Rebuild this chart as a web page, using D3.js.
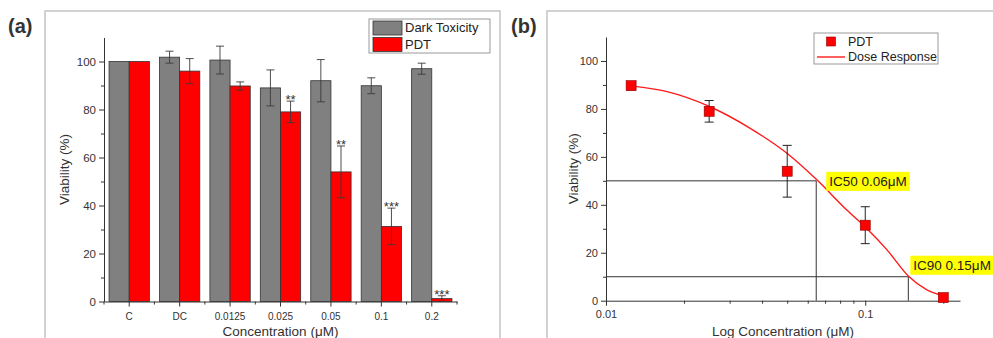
<!DOCTYPE html>
<html>
<head>
<meta charset="utf-8">
<script src="https://cdn.jsdelivr.net/npm/d3@7"></script>
<style>
  body { margin: 0; background: #fff; }
  svg { display: block; font-family: Arial, "Liberation Sans", sans-serif; }
  .tick text { fill: #333; }
  .domain, .tick line { stroke: #333; }
</style>
</head>
<body>
<div id="chart"></div>
<script>
// panel (a): bar chart
const categories = ["C", "DC", "0.0125", "0.025", "0.05", "0.1", "0.2"];
const darkValues = [100, 101.8, 100.6, 89, 92, 89.9, 97];
const darkErr = [0, 2.5, 5.8, 7.5, 8.8, 3.3, 2.3];
const pdtValues = [100, 96, 89.8, 79, 54, 31.3, 1.2];
const pdtErr = [0, 5.2, 1.7, 4.5, 10.8, 7.6, 1.2];
const significance = ["", "", "", "**", "**", "***", "***"];
const yTicksA = [0, 20, 40, 60, 80, 100];
const yMinorA = [10, 30, 50, 70, 90];

// panel (b): dose response
const pdtConc = [0.0125, 0.025, 0.05, 0.1, 0.2];
const pdtMean = [89.7, 79, 54, 31.5, 1.3];
const pdtSd = [1.7, 4.5, 10.8, 7.7, 1.2];
const fitConc = [0.0126, 0.0172, 0.0252, 0.036, 0.0499, 0.0652, 0.0849, 0.1016, 0.1213, 0.1469, 0.173, 0.2004];
const fitViab = [89.5, 87.2, 80.9, 71.9, 61.5, 50.3, 37.8, 30.0, 21.2, 10.2, 4.5, 2.0];
const icConc = [0.0647, 0.1466];
const icLevel = [50, 10];
const icLabels = ["IC50 0.06\u03bcM", "IC90 0.15\u03bcM"];
const xTicksB = [0.01, 0.1];
const xMinorB = [0.02, 0.03, 0.04, 0.05, 0.06, 0.07, 0.08, 0.09, 0.2];

const W = 993, H = 338;
const ink = "#333";

const svg = d3.select("#chart").append("svg")
    .attr("width", W)
    .attr("height", H);

// panel frames
svg.append("path")
    .attr("d", "M45,340V11H500V340")
    .attr("fill", "none").attr("stroke", "#c4c4c4").attr("stroke-width", 1.5);
svg.append("path")
    .attr("d", "M547,340V11H995")
    .attr("fill", "none").attr("stroke", "#c4c4c4").attr("stroke-width", 1.5);

svg.append("text").attr("x", 8).attr("y", 33)
    .style("font-size", "20px").style("font-weight", "bold").attr("fill", ink).text("(a)");
svg.append("text").attr("x", 511).attr("y", 33)
    .style("font-size", "20px").style("font-weight", "bold").attr("fill", ink).text("(b)");

// ---------- panel (a) ----------
const xa = d3.scaleBand().domain(categories).range([104, 457]).paddingInner(0.2).paddingOuter(0.1);
const xs = d3.scaleBand().domain(["dark", "pdt"]).range([0, xa.bandwidth()]);
const ya = d3.scaleLinear().domain([0, 110]).range([301.5, 37.5]);

const ga = svg.append("g");

const rows = categories.map((c, i) => ({
    c, dark: darkValues[i], darkErr: darkErr[i], pdt: pdtValues[i], pdtErr: pdtErr[i], sig: significance[i]
}));

const series = [
    { key: "dark", color: "#808080", val: d => d.dark, err: d => d.darkErr },
    { key: "pdt", color: "#ff0000", val: d => d.pdt, err: d => d.pdtErr }
];

series.forEach(s => {
    ga.append("g").selectAll("rect")
        .data(rows)
        .join("rect")
        .attr("x", d => xa(d.c) + xs(s.key))
        .attr("y", d => ya(s.val(d)))
        .attr("width", xs.bandwidth())
        .attr("height", d => ya(0) - ya(s.val(d)))
        .attr("fill", s.color)
        .attr("stroke", ink)
        .attr("stroke-width", 0.8);

    const eb = ga.append("g").attr("stroke", "#3a3a3a").attr("stroke-width", 0.9)
        .selectAll("g")
        .data(rows.filter(d => s.err(d) > 0))
        .join("g")
        .attr("transform", d => `translate(${xa(d.c) + xs(s.key) + xs.bandwidth() / 2},0)`);
    eb.append("line")
        .attr("y1", d => ya(s.val(d) + s.err(d)))
        .attr("y2", d => ya(s.val(d) - s.err(d)));
    eb.append("line").attr("x1", -4).attr("x2", 4)
        .attr("y1", d => ya(s.val(d) + s.err(d))).attr("y2", d => ya(s.val(d) + s.err(d)));
    eb.append("line").attr("x1", -4).attr("x2", 4)
        .attr("y1", d => ya(s.val(d) - s.err(d))).attr("y2", d => ya(s.val(d) - s.err(d)));
});

ga.append("g").selectAll("text")
    .data(rows.filter(d => d.sig))
    .join("text")
    .attr("x", d => xa(d.c) + xs("pdt") + xs.bandwidth() / 2)
    .attr("y", d => ya(d.pdt + d.pdtErr) + 3)
    .attr("text-anchor", "middle")
    .attr("fill", ink)
    .style("font-size", "13px")
    .text(d => d.sig);

// axes (a)
ga.append("g")
    .attr("transform", `translate(104,0)`)
    .call(d3.axisLeft(ya).tickValues(yTicksA).tickSize(5).tickSizeOuter(0).tickPadding(3))
    .call(g => g.selectAll("text").style("font-size", "11.5px"));
ga.append("g")
    .attr("transform", `translate(104,0)`)
    .call(d3.axisLeft(ya).tickValues(yMinorA).tickSize(3).tickFormat(""))
    .call(g => g.select(".domain").remove());

ga.append("g")
    .attr("transform", `translate(0,${ya(0)})`)
    .call(d3.axisBottom(xa).tickSize(5).tickSizeOuter(0).tickPadding(6))
    .call(g => g.selectAll("text").style("font-size", "10px"));
ga.append("g").attr("stroke", ink)
    .selectAll("line")
    .data(d3.range(categories.length + 1))
    .join("line")
    .attr("x1", k => xa.range()[0] + k * xa.step())
    .attr("x2", k => xa.range()[0] + k * xa.step())
    .attr("y1", ya(0)).attr("y2", ya(0) + 3);

ga.append("text")
    .attr("x", (xa.range()[0] + xa.range()[1]) / 2).attr("y", 336)
    .attr("text-anchor", "middle").attr("fill", ink)
    .style("font-size", "13.5px").text("Concentration (\u03bcM)");
ga.append("text")
    .attr("transform", `translate(69,${(ya(0) + ya(110)) / 2}) rotate(-90)`)
    .attr("text-anchor", "middle").attr("fill", ink)
    .style("font-size", "13.5px").text("Viability (%)");

// legend (a)
const la = ga.append("g");
la.append("rect").attr("x", 369).attr("y", 19).attr("width", 121).attr("height", 34)
    .attr("fill", "#fff").attr("stroke", "#999");
series.forEach((s, i) => {
    la.append("rect").attr("x", 373).attr("y", 21 + i * 16.5).attr("width", 29).attr("height", 14)
        .attr("fill", s.color).attr("stroke", ink).attr("stroke-width", 0.8);
    la.append("text").attr("x", 405).attr("y", 32 + i * 17).attr("fill", "#222")
        .style("font-size", "13px").text(i === 0 ? "Dark Toxicity" : "PDT");
});

// ---------- panel (b) ----------
const xb = d3.scaleLog().domain([0.01, 0.232]).range([606, 960]);
const yb = d3.scaleLinear().domain([0, 110]).range([300.7, 37]);

const gb = svg.append("g");

// IC guide lines
icConc.forEach((c, i) => {
    gb.append("path")
        .attr("d", `M${xb(0.01)},${yb(icLevel[i])}H${xb(c)}V${yb(0)}`)
        .attr("fill", "none").attr("stroke", ink).attr("stroke-width", 1);
});

// axes (b)
gb.append("g")
    .attr("transform", `translate(${xb(0.01)},0)`)
    .call(d3.axisLeft(yb).tickValues(yTicksA).tickSize(5).tickSizeOuter(0).tickPadding(3))
    .call(g => g.selectAll("text").style("font-size", "11px"));
gb.append("g")
    .attr("transform", `translate(${xb(0.01)},0)`)
    .call(d3.axisLeft(yb).tickValues(yMinorA).tickSize(3).tickFormat(""))
    .call(g => g.select(".domain").remove());
gb.append("g")
    .attr("transform", `translate(0,${yb(0)})`)
    .call(d3.axisBottom(xb).tickValues(xTicksB).tickFormat(d => String(d)).tickSize(5).tickSizeOuter(0).tickPadding(5))
    .call(g => g.selectAll("text").style("font-size", "11px"));
gb.append("g")
    .attr("transform", `translate(0,${yb(0)})`)
    .call(d3.axisBottom(xb).tickValues(xMinorB).tickFormat("").tickSize(3))
    .call(g => g.select(".domain").remove());

// fitted curve
const line = d3.line()
    .x((d, i) => xb(fitConc[i]))
    .y(d => yb(d))
    .curve(d3.curveMonotoneX);
gb.append("path")
    .attr("d", line(fitViab))
    .attr("fill", "none").attr("stroke", "#ff1a1a").attr("stroke-width", 1.4);

// error bars + markers
const pts = pdtConc.map((c, i) => ({ c, m: pdtMean[i], sd: pdtSd[i] }));
const ebb = gb.append("g").attr("stroke", "#222").attr("stroke-width", 1)
    .selectAll("g").data(pts).join("g")
    .attr("transform", d => `translate(${xb(d.c)},0)`);
ebb.append("line").attr("y1", d => yb(d.m + d.sd)).attr("y2", d => yb(d.m - d.sd));
ebb.append("line").attr("x1", -4.5).attr("x2", 4.5).attr("y1", d => yb(d.m + d.sd)).attr("y2", d => yb(d.m + d.sd));
ebb.append("line").attr("x1", -4.5).attr("x2", 4.5).attr("y1", d => yb(d.m - d.sd)).attr("y2", d => yb(d.m - d.sd));

gb.append("g").selectAll("rect").data(pts).join("rect")
    .attr("x", d => xb(d.c) - 5).attr("y", d => yb(d.m) - 5)
    .attr("width", 10).attr("height", 10)
    .attr("fill", "#ff0000").attr("stroke", "#8b0000").attr("stroke-width", 0.6);

// IC labels
const icOffsets = [[10, -9], [2, -21]];
icConc.forEach((c, i) => {
    const x0 = xb(c) + icOffsets[i][0], y0 = yb(icLevel[i]) + icOffsets[i][1];
    const lab = gb.append("g").attr("transform", `translate(${x0},${y0})`);
    const t = lab.append("text").attr("x", 3).attr("y", 14)
        .attr("fill", "#222").style("font-size", "13.5px").text(icLabels[i]);
    const w = t.node().getComputedTextLength();
    lab.insert("rect", "text").attr("width", w + 6).attr("height", 19).attr("fill", "#ffff00");
});

gb.append("text")
    .attr("x", (xb.range()[0] + xb.range()[1]) / 2).attr("y", 336)
    .attr("text-anchor", "middle").attr("fill", ink)
    .style("font-size", "13.5px").text("Log Concentration (\u03bcM)");
gb.append("text")
    .attr("transform", `translate(578,${(yb(0) + yb(110)) / 2}) rotate(-90)`)
    .attr("text-anchor", "middle").attr("fill", ink)
    .style("font-size", "13.5px").text("Viability (%)");

// legend (b)
const lb = gb.append("g");
lb.append("rect").attr("x", 814).attr("y", 33).attr("width", 124).attr("height", 31)
    .attr("fill", "#fff").attr("stroke", "#999");
lb.append("rect").attr("x", 826.5).attr("y", 37).attr("width", 9).attr("height", 9)
    .attr("fill", "#ff0000").attr("stroke", "#8b0000").attr("stroke-width", 0.6);
lb.append("line").attr("x1", 817).attr("x2", 845).attr("y1", 57).attr("y2", 57)
    .attr("stroke", "#ff1a1a").attr("stroke-width", 1.4);
lb.append("text").attr("x", 848).attr("y", 46).attr("fill", "#222").style("font-size", "12.5px").text("PDT");
lb.append("text").attr("x", 848).attr("y", 61).attr("fill", "#222").style("font-size", "12.5px").text("Dose Response");
</script>
</body>
</html>
